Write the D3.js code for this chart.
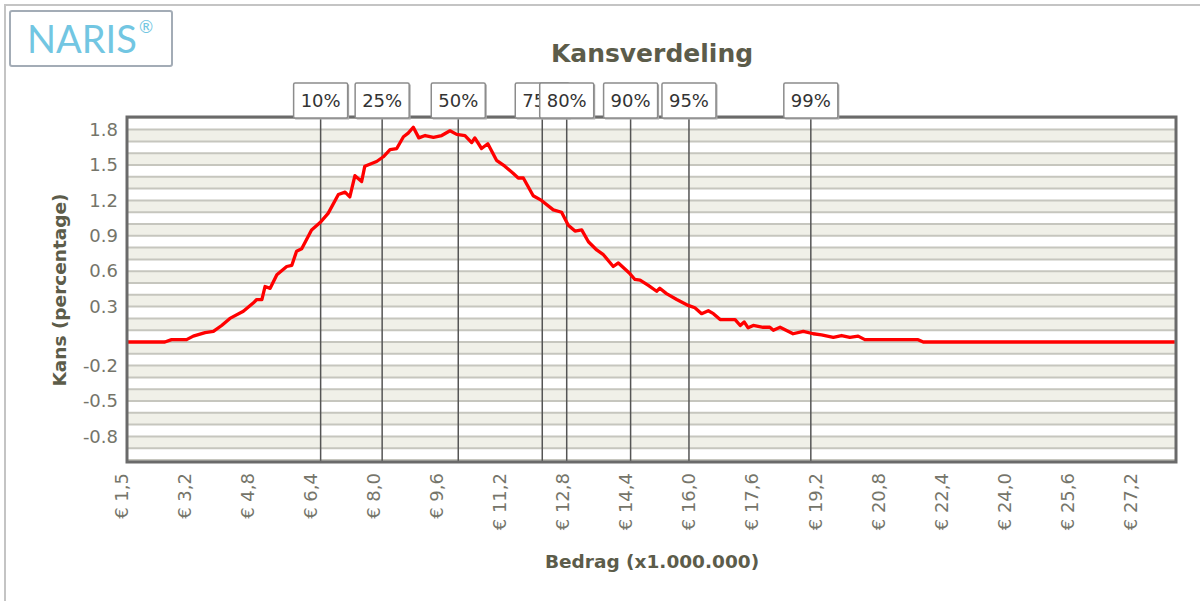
<!DOCTYPE html>
<html>
<head>
<meta charset="utf-8">
<script src="https://cdn.jsdelivr.net/npm/d3@7"></script>
<style>
  body { margin: 0; background: #fff; }
  svg { display: block; font-family: "DejaVu Sans", sans-serif; }
</style>
</head>
<body>
<script>

// bedrag (x1.000.000) and kans (percentage)
var bedrag = [1.55, 2.51, 2.68, 3.06, 3.23, 3.53, 3.74, 3.95, 4.16, 4.50, 4.75, 4.84, 4.97, 5.05, 5.18,
  5.35, 5.60, 5.73, 5.85, 5.98, 6.23, 6.44, 6.65, 6.91, 7.08, 7.20, 7.33, 7.50, 7.58, 7.88, 8.05,
  8.22, 8.39, 8.56, 8.68, 8.81, 8.95, 9.11, 9.32, 9.53, 9.74, 9.91, 10.12, 10.29, 10.37, 10.54,
  10.70, 10.92, 11.13, 11.34, 11.47, 11.60, 11.85, 12.06, 12.36, 12.57, 12.74, 12.91, 13.08,
  13.25, 13.46, 13.63, 13.88, 14.01, 14.30, 14.43, 14.56, 14.77, 14.98, 15.06, 15.23, 15.49,
  15.78, 15.95, 16.12, 16.29, 16.42, 16.59, 16.97, 17.10, 17.20, 17.30, 17.43, 17.68, 17.85,
  17.94, 18.11, 18.44, 18.70, 18.95, 19.16, 19.46, 19.67, 19.88, 20.09, 20.26, 21.61, 21.74, 28.12];
var kans = [0.00, 0.00, 0.02, 0.02, 0.05, 0.08, 0.09, 0.14, 0.20, 0.26, 0.33, 0.36, 0.36, 0.47, 0.455,
  0.57, 0.64, 0.65, 0.77, 0.79, 0.95, 1.01, 1.09, 1.25, 1.27, 1.23, 1.41, 1.36, 1.49, 1.53, 1.57,
  1.63, 1.64, 1.74, 1.77, 1.82, 1.73, 1.75, 1.735, 1.75, 1.79, 1.76, 1.75, 1.69, 1.73, 1.64,
  1.68, 1.54, 1.49, 1.43, 1.39, 1.39, 1.24, 1.20, 1.12, 1.10, 0.99, 0.94, 0.95,
  0.85, 0.78, 0.74, 0.64, 0.67, 0.58, 0.53, 0.525, 0.48, 0.43, 0.455, 0.41, 0.36,
  0.31, 0.29, 0.24, 0.265, 0.24, 0.19, 0.19, 0.14, 0.17, 0.12, 0.14, 0.125, 0.125,
  0.10, 0.125, 0.07, 0.09, 0.07, 0.06, 0.04, 0.055, 0.04, 0.05, 0.02, 0.02, 0.00, 0.00];

var percentielLabels = ["10%", "25%", "50%", "75%", "80%", "90%", "95%", "99%"];
var percentielWaarden = [6.46, 8.02, 9.95, 12.08, 12.70, 14.32, 15.80, 18.89];

var xTickWaarden = [1.55, 3.15, 4.75, 6.35, 7.95, 9.55, 11.15, 12.75, 14.35, 15.95, 17.55, 19.15,
  20.75, 22.35, 23.95, 25.55, 27.15];
var xTickLabels = ["€ 1,5", "€ 3,2", "€ 4,8", "€ 6,4", "€ 8,0", "€ 9,6", "€ 11,2", "€ 12,8", "€ 14,4",
  "€ 16,0", "€ 17,6", "€ 19,2", "€ 20,8", "€ 22,4", "€ 24,0", "€ 25,6", "€ 27,2"];
var yTickWaarden = [1.8, 1.5, 1.2, 0.9, 0.6, 0.3, -0.2, -0.5, -0.8];

var width = 1200, height = 601;
var plotLeft = 127, plotTop = 117, plotRight = 1176, plotBottom = 462;

var svg = d3.select("body").append("svg")
  .attr("width", width)
  .attr("height", height);

// outer frame
svg.append("path")
  .attr("d", "M5,601 L5,5 L1200,5")
  .attr("fill", "none")
  .attr("stroke", "#c4c4c4")
  .attr("stroke-width", 2);

// logo
svg.append("rect")
  .attr("x", 10).attr("y", 11).attr("width", 162).attr("height", 55)
  .attr("rx", 2)
  .attr("fill", "#fff")
  .attr("stroke", "#a3acb6")
  .attr("stroke-width", 2);
svg.append("text")
  .attr("x", 27).attr("y", 53)
  .attr("font-family", "Lato, sans-serif")
  .attr("font-size", 38)
  .attr("fill", "#72c6e2")
  .text("NARIS");
svg.append("text")
  .attr("x", 139).attr("y", 33)
  .attr("font-family", "Lato, sans-serif")
  .attr("font-size", 17)
  .attr("fill", "#72c6e2")
  .text("®");

// title
svg.append("text")
  .attr("x", 652).attr("y", 62)
  .attr("text-anchor", "middle")
  .attr("font-size", 25)
  .attr("font-weight", "bold")
  .attr("fill", "#5c5c4a")
  .text("Kansverdeling");

var x = d3.scaleLinear().domain([1.55, 28.15]).range([plotLeft, plotRight]);
var y = d3.scaleLinear().domain([-1.017, 1.907]).range([plotBottom, plotTop]);

var plot = svg.append("g");

// striped background
plot.append("rect")
  .attr("x", plotLeft).attr("y", plotTop)
  .attr("width", plotRight - plotLeft).attr("height", plotBottom - plotTop)
  .attr("fill", "#fff");

plot.selectAll(".band")
  .data(d3.range(-10, 19))
  .enter()
  .append("rect")
  .attr("class", "band")
  .attr("x", plotLeft)
  .attr("y", function(d) { return y((d + 1) / 10); })
  .attr("width", plotRight - plotLeft)
  .attr("height", function(d) { return y(d / 10) - y((d + 1) / 10); })
  .attr("fill", function(d) { return Math.abs(d) % 2 === 1 ? "#f0f0e8" : "#ffffff"; });

plot.selectAll(".grid")
  .data(d3.range(-10, 20))
  .enter()
  .append("line")
  .attr("class", "grid")
  .attr("x1", plotLeft).attr("x2", plotRight)
  .attr("y1", function(d) { return y(d / 10); })
  .attr("y2", function(d) { return y(d / 10); })
  .attr("stroke", "#c6c6be")
  .attr("stroke-width", 2);

// percentile lines
plot.selectAll(".pline")
  .data(percentielWaarden)
  .enter()
  .append("line")
  .attr("class", "pline")
  .attr("x1", function(d) { return x(d); })
  .attr("x2", function(d) { return x(d); })
  .attr("y1", plotTop)
  .attr("y2", plotBottom)
  .attr("stroke", "#555")
  .attr("stroke-width", 1.5);

// curve
var lijn = d3.line()
  .x(function(d, i) { return x(bedrag[i]); })
  .y(function(d) { return y(d); });

plot.append("path")
  .attr("d", lijn(kans))
  .attr("fill", "none")
  .attr("stroke", "#ff0000")
  .attr("stroke-width", 3.3)
  .attr("stroke-linejoin", "round");

// plot border
svg.append("rect")
  .attr("x", plotLeft).attr("y", plotTop)
  .attr("width", plotRight - plotLeft).attr("height", plotBottom - plotTop)
  .attr("fill", "none")
  .attr("stroke", "#6a6a6a")
  .attr("stroke-width", 3);

// y axis
var yAxis = svg.append("g")
  .attr("transform", "translate(" + plotLeft + ",0)")
  .call(d3.axisLeft(y).tickValues(yTickWaarden).tickSize(0).tickPadding(9)
    .tickFormat(function(d) { return d.toFixed(1); }));
yAxis.select(".domain").remove();
yAxis.selectAll("text")
  .attr("font-family", "DejaVu Sans, sans-serif")
  .attr("font-size", 18)
  .attr("fill", "#75756a");

// x axis
var xAxis = svg.append("g")
  .attr("transform", "translate(0," + plotBottom + ")")
  .call(d3.axisBottom(x).tickValues(xTickWaarden).tickSize(0)
    .tickFormat(function(d, i) { return xTickLabels[i]; }));
xAxis.select(".domain").remove();
xAxis.selectAll("text")
  .attr("font-family", "DejaVu Sans, sans-serif")
  .attr("font-size", 18)
  .attr("fill", "#75756a")
  .attr("text-anchor", "end")
  .attr("x", -11)
  .attr("y", 0)
  .attr("dy", 0)
  .attr("transform", "rotate(-90)");

// axis titles
svg.append("text")
  .attr("x", 652).attr("y", 568)
  .attr("text-anchor", "middle")
  .attr("font-size", 18.5)
  .attr("font-weight", "bold")
  .attr("fill", "#5c5c4a")
  .text("Bedrag (x1.000.000)");

svg.append("text")
  .attr("transform", "translate(66,290) rotate(-90)")
  .attr("text-anchor", "middle")
  .attr("font-size", 18.5)
  .attr("font-weight", "bold")
  .attr("fill", "#5c5c4a")
  .text("Kans (percentage)");

// percentile labels
var labels = svg.selectAll(".plabel")
  .data(percentielWaarden)
  .enter()
  .append("g")
  .attr("class", "plabel")
  .attr("transform", function(d) { return "translate(" + x(d) + ",0)"; });

labels.each(function(d, i) {
  var g = d3.select(this);
  var shadow = g.append("rect");
  var box = g.append("rect");
  var t = g.append("text")
    .attr("x", 0).attr("y", 107)
    .attr("text-anchor", "middle")
    .attr("font-size", 18)
    .attr("fill", "#333")
    .text(percentielLabels[i]);
  var w = t.node().getComputedTextLength() + 14;
  shadow.attr("x", -w / 2 + 1.5).attr("y", 84.5).attr("width", w).attr("height", 35)
    .attr("fill", "#aaa");
  box.attr("x", -w / 2).attr("y", 83).attr("width", w).attr("height", 35)
    .attr("rx", 1.5)
    .attr("fill", "#fff")
    .attr("stroke", "#8c8c8c")
    .attr("stroke-width", 1.5);
  t.raise();
});

</script>
</body>
</html>
